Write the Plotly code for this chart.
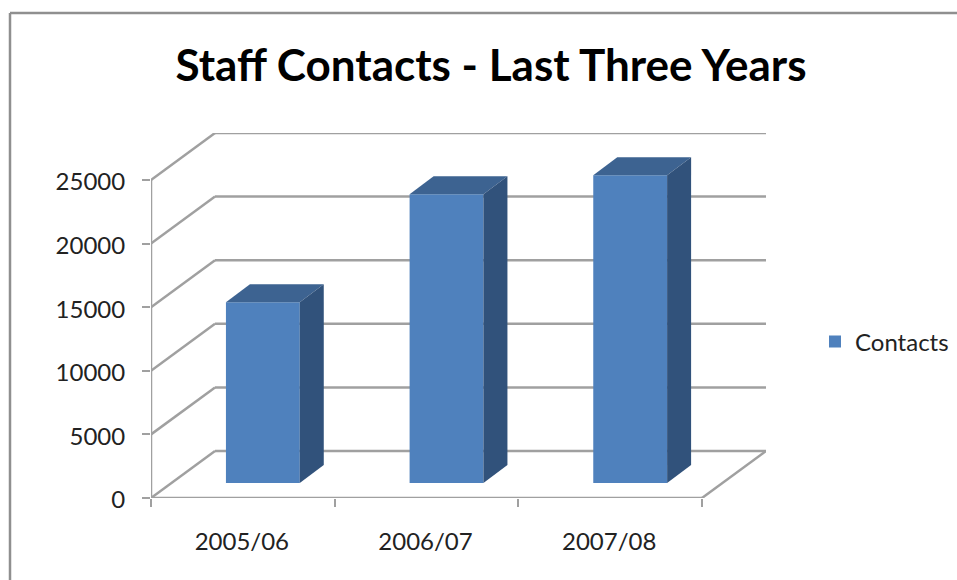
import plotly.graph_objects as go

# Chart content
categories = ["2005/06", "2006/07", "2007/08"]
contacts = [14200, 22700, 24200]
y_ticks = [0, 5000, 10000, 15000, 20000, 25000]
series_name = "Contacts"
chart_title = "Staff Contacts - Last Three Years"

# Page geometry (pixels)
W, H = 957, 580
X_LEFT, X_RIGHT, Y_FLOOR, Y_BACK_TOP = 151, 766, 498, 133

# Pseudo-3D projection, expressed in axis units
WALL_DX, WALL_DY = 0.3485, 3695     # floor depth
BAR_WIDTH = 0.402
BAR_SHIFT_X, BAR_BASE = 0.109, 1180  # how far the bars stand back from the front edge
BAR_DX, BAR_DY = 0.1307, 1415       # bar depth

FRONT, TOP, SIDE = "#4f81bd", "#3d6391", "#31527b"
GRID = "#a0a0a0"
FONT = "Lato"
n = len(categories)
slots = [i + 0.5 for i in range(n)]


def line(x0, y0, x1, y1):
    return dict(type="line", xref="x", yref="y", x0=x0, y0=y0, x1=x1, y1=y1,
                line=dict(color=GRID, width=2.5), layer="below")


shapes = []
for t in y_ticks:
    shapes.append(line(0, t, WALL_DX, t + WALL_DY))
    shapes.append(line(WALL_DX, t + WALL_DY, n + WALL_DX, t + WALL_DY))
shapes.append(line(0, 0, 0, y_ticks[-1]))
shapes.append(line(0, 0, n, 0))
shapes.append(line(n, 0, n + WALL_DX, WALL_DY))

# Outer chart frame: only the top and left edges fall inside the page
for x0, y0, x1, y1 in [(10 / W, 1 - 13 / H, 1, 1 - 13 / H), (10 / W, 1 - 13 / H, 10 / W, 0)]:
    shapes.append(dict(type="line", xref="paper", yref="paper", x0=x0, y0=y0, x1=x1, y1=y1,
                       line=dict(color="#8f8f8f", width=2.5), layer="below"))

fig = go.Figure()
fig.add_trace(go.Bar(
    x=[s + BAR_SHIFT_X for s in slots], y=contacts, base=BAR_BASE, width=BAR_WIDTH,
    name=series_name, marker=dict(color=FRONT, line=dict(width=0)), showlegend=True,
))

for s, v in zip(slots, contacts):
    x0 = s + BAR_SHIFT_X - BAR_WIDTH / 2
    x1 = s + BAR_SHIFT_X + BAR_WIDTH / 2
    bottom, top = BAR_BASE, BAR_BASE + v
    # top face
    fig.add_trace(go.Scatter(
        x=[x0, x1, x1 + BAR_DX, x0 + BAR_DX, x0],
        y=[top, top, top + BAR_DY, top + BAR_DY, top],
        mode="lines", fill="toself", fillcolor=TOP, line=dict(width=0),
        showlegend=False, hoverinfo="skip",
    ))
    # side face
    fig.add_trace(go.Scatter(
        x=[x1, x1 + BAR_DX, x1 + BAR_DX, x1, x1],
        y=[bottom, bottom + BAR_DY, top + BAR_DY, top, bottom],
        mode="lines", fill="toself", fillcolor=SIDE, line=dict(width=0),
        showlegend=False, hoverinfo="skip",
    ))

fig.update_layout(
    width=W, height=H, margin=dict(l=0, r=0, t=0, b=0, autoexpand=False),
    paper_bgcolor="white", plot_bgcolor="rgba(0,0,0,0)",
    font=dict(family=FONT, color="#222222"),
    title=dict(text=f"<b>{chart_title}</b>", x=491 / W, y=1 - 66 / H,
               xanchor="center", yanchor="middle",
               font=dict(family=FONT, size=44, color="#000000")),
    shapes=shapes,
    showlegend=True,
    legend=dict(x=815 / W, y=1 - 342 / H, xanchor="left", yanchor="middle",
                font=dict(family=FONT, size=24, color="#222222"),
                bgcolor="rgba(0,0,0,0)", itemclick=False),
    xaxis=dict(
        domain=[X_LEFT / W, X_RIGHT / W], range=[0, n + WALL_DX],
        tickmode="array", tickvals=slots, ticktext=categories, automargin=False,
        ticks="", showgrid=False, zeroline=False, showline=False,
        ticklabelstandoff=27, ticklabelshift=-1,
        tickfont=dict(family=FONT, size=24, color="#222222"),
        minor=dict(tickmode="array", tickvals=list(range(n + 1)), ticks="outside",
                   ticklen=8, tickwidth=2, tickcolor=GRID, showgrid=False),
    ),
    yaxis=dict(
        domain=[1 - Y_FLOOR / H, 1 - Y_BACK_TOP / H], range=[0, y_ticks[-1] + WALL_DY],
        tickmode="array", tickvals=y_ticks, ticktext=[str(t) for t in y_ticks],
        ticks="outside", ticklen=8, tickwidth=2, tickcolor=GRID, automargin=False,
        showgrid=False, zeroline=False, showline=False,
        ticklabelstandoff=12, ticklabelshift=2,
        tickfont=dict(family=FONT, size=24, color="#222222"),
    ),
)

fig.write_html("out.html")
